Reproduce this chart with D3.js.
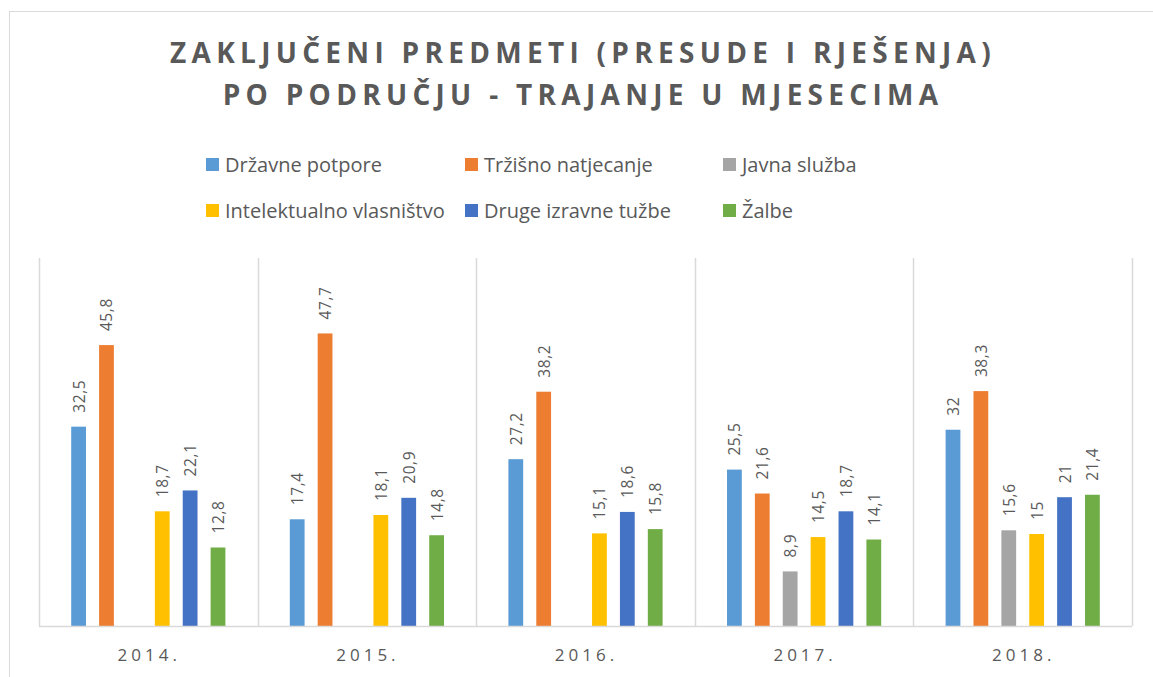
<!DOCTYPE html>
<html lang="hr">
<head>
<meta charset="utf-8">
<title>Zaključeni predmeti</title>
<script src="https://d3js.org/d3.v7.min.js"></script>
<style>
  body { margin: 0; background: #fff; }
  svg { font-family: "Open Sans", sans-serif; }
  .title { font-size: 28px; font-weight: 700; fill: #595959; letter-spacing: 5.3px; }
  .legend text { font-size: 20px; fill: #595959; }
  .lbl { font-size: 15.5px; fill: #595959; letter-spacing: 0.6px; }
  .cat { font-size: 17px; fill: #595959; letter-spacing: 4px; }
</style>
</head>
<body>
<script>
var years = ["2014.", "2015.", "2016.", "2017.", "2018."];
var series = ["Državne potpore", "Tržišno natjecanje", "Javna služba",
              "Intelektualno vlasništvo", "Druge izravne tužbe", "Žalbe"];
var colors = ["#5b9bd5", "#ed7d31", "#a5a5a5", "#ffc000", "#4472c4", "#70ad47"];
// one row per series, one value per year (null = no bar)
var drzavne   = [32.5, 17.4, 27.2, 25.5, 32];
var trzisno   = [45.8, 47.7, 38.2, 21.6, 38.3];
var javna     = [null, null, null, 8.9, 15.6];
var intelekt  = [18.7, 18.1, 15.1, 14.5, 15];
var druge     = [22.1, 20.9, 18.6, 18.7, 21];
var zalbe     = [12.8, 14.8, 15.8, 14.1, 21.4];
var values = [drzavne, trzisno, javna, intelekt, druge, zalbe];
var titleLines = ["ZAKLJUČENI PREDMETI (PRESUDE I RJEŠENJA)", "PO PODRUČJU - TRAJANJE U MJESECIMA"];

var width = 1153, height = 677;
var svg = d3.select("body").append("svg")
    .attr("width", width)
    .attr("height", height);

// chart border (right and bottom sides fall outside the picture)
svg.append("rect")
    .attr("x", 9.5).attr("y", 11.5)
    .attr("width", 1160).attr("height", 680)
    .attr("fill", "none").attr("stroke", "#d9d9d9");

svg.selectAll(".title")
    .data(titleLines)
  .enter().append("text")
    .attr("class", "title")
    .attr("x", 583)
    .attr("y", function(d, i) { return 63 + i * 42; })
    .attr("text-anchor", "middle")
    .text(function(d) { return d; });

// legend
var legendPos = [[206, 172], [465, 172], [723, 172], [206, 218], [465, 218], [723, 218]];
var legend = svg.append("g").attr("class", "legend")
  .selectAll("g")
    .data(series)
  .enter().append("g")
    .attr("transform", function(d, i) { return "translate(" + legendPos[i][0] + "," + legendPos[i][1] + ")"; });
legend.append("rect")
    .attr("x", 0).attr("y", -14)
    .attr("width", 13).attr("height", 13)
    .attr("fill", function(d, i) { return colors[i]; });
legend.append("text")
    .attr("x", 19).attr("y", 0)
    .text(function(d) { return d; });

var x0 = d3.scaleBand()
    .domain(years)
    .range([39, 1132]);
var x1 = d3.scaleBand()
    .domain(d3.range(series.length))
    .range([0, x0.bandwidth()])
    .paddingInner(0.47)
    .paddingOuter(1.155);
var y = d3.scaleLinear()
    .domain([0, 60])
    .range([626, 258]);

// vertical separators
var seps = years.map(function(d) { return x0(d); }).concat([x0.range()[1]]);
svg.selectAll(".sep")
    .data(seps)
  .enter().append("line")
    .attr("x1", function(d) { return Math.round(d) + 0.5; })
    .attr("x2", function(d) { return Math.round(d) + 0.5; })
    .attr("y1", y(60)).attr("y2", y(0))
    .attr("stroke", "#d9d9d9").attr("stroke-width", 1.5);

var groups = svg.selectAll(".year")
    .data(years)
  .enter().append("g")
    .attr("transform", function(d) { return "translate(" + x0(d) + ",0)"; });

var cells = groups.selectAll(".bar")
    .data(function(d, yi) {
      return values.map(function(v, si) { return { s: si, v: v[yi] }; })
        .filter(function(e) { return e.v != null; });
    })
  .enter();

cells.append("rect")
    .attr("x", function(d) { return x1(d.s); })
    .attr("y", function(d) { return y(d.v); })
    .attr("width", x1.bandwidth())
    .attr("height", function(d) { return y(0) - y(d.v); })
    .attr("fill", function(d) { return colors[d.s]; });

cells.append("text")
    .attr("class", "lbl")
    .attr("transform", function(d) {
      return "translate(" + (x1(d.s) + x1.bandwidth() / 2) + "," + (y(d.v) - 14) + ") rotate(-90)";
    })
    .attr("dominant-baseline", "central")
    .text(function(d) { return String(d.v).replace(".", ","); });

// baseline
svg.append("line")
    .attr("x1", 39).attr("x2", 1132)
    .attr("y1", y(0) + 0.5).attr("y2", y(0) + 0.5)
    .attr("stroke", "#d9d9d9").attr("stroke-width", 1.5);

svg.selectAll(".cat")
    .data(years)
  .enter().append("text")
    .attr("class", "cat")
    .attr("x", function(d) { return x0(d) + x0.bandwidth() / 2 + 1; })
    .attr("y", 661)
    .attr("text-anchor", "middle")
    .text(function(d) { return d; });
</script>
</body>
</html>
